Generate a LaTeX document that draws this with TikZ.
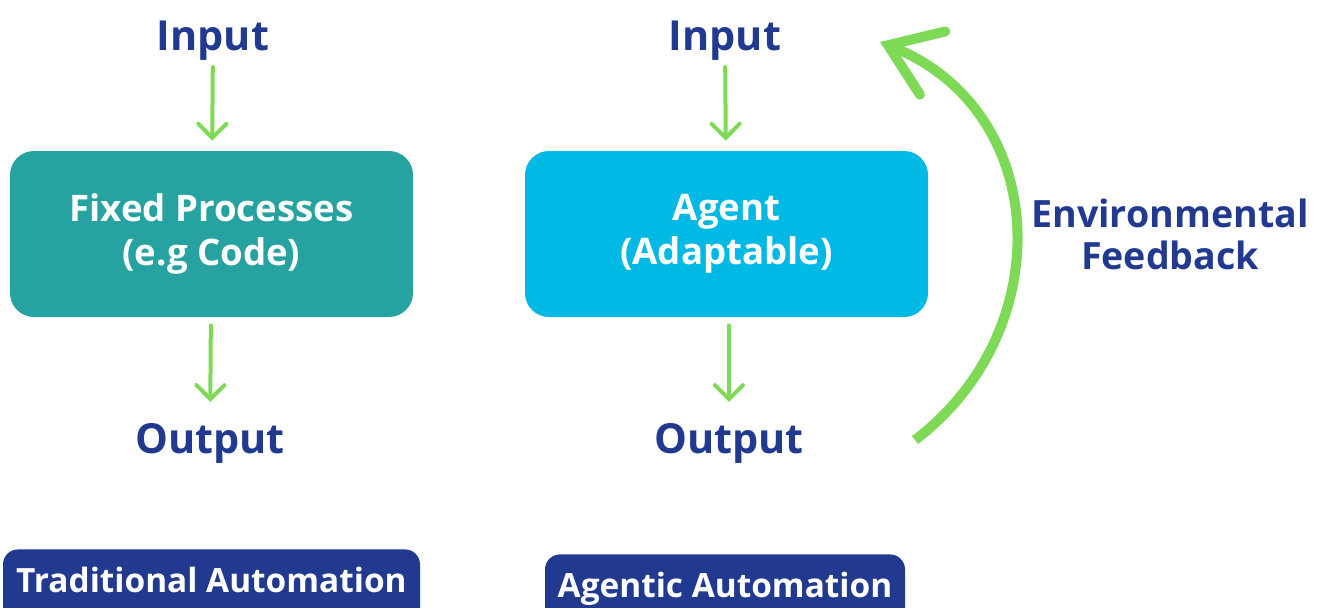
\documentclass[tikz,border=0pt]{standalone}
\usepackage{fontspec}
\setmainfont{Open Sans}
\usetikzlibrary{arrows.meta, positioning}

\definecolor{navy}{HTML}{213A8F}
\definecolor{tealbox}{HTML}{26A3A0}
\definecolor{cyanbox}{HTML}{00B9E4}
\definecolor{leaf}{HTML}{7ED957}

\tikzset{
    heading/.style={text=navy, anchor=base, font=\fontsize{20.7}{25}\selectfont\bfseries},
    procbox/.style={rounded corners=12pt, minimum width=201.5pt, minimum height=83pt,
        text=white, align=center, font=\fontsize{18.3}{22}\selectfont\bfseries},
    flow/.style={-{Straight Barb[length=7pt, width=14pt, line cap=round]},
        line width=2pt, leaf, line cap=round},
    tagbox/.style={fill=navy, rounded corners=7.5pt, text=white, anchor=north, inner sep=0pt,
        text height=21.5pt, text depth=22pt, font=\fontsize{16.7}{20}\selectfont\bfseries}
}

\begin{document}
\begin{tikzpicture}[x=0.5pt, y=-0.5pt]
    \useasboundingbox (0,0) rectangle (1323,607);
    \clip (0,0) rectangle (1323,607);

    % traditional automation
    \node[heading] (in1) at (213,50) {Input};
    \node[procbox, fill=tealbox] (fixed) at (211.5,234) {Fixed Processes\\(e.g Code)};
    \node[heading] (out1) at (210,453) {Output};
    \draw[flow, shorten >=5pt] (in1) -- (fixed);
    \draw[flow, shorten <=4pt, shorten >=7pt] (fixed) -- (out1);
    \node[tagbox, minimum width=208.5pt] (trad) at (211.5,549) {Traditional Automation};

    % agentic automation
    \node[heading] (in2) at (725,50) {Input};
    \node[procbox, fill=cyanbox] (agent) at (726.5,234) {Agent\\(Adaptable)};
    \node[heading] (out2) at (729,453) {Output};
    \draw[flow, shorten >=5pt] (in2) -- (agent);
    \draw[flow, shorten <=4pt, shorten >=7pt] (agent.south -| out2) -- (out2);
    \node[tagbox, minimum width=180pt] (agentic) at (725,554) {Agentic Automation};

    % feedback loop
    \coordinate (fbstart) at (915,440);
    \coordinate (fbend) at (880,42);
    \draw[leaf, line width=5pt, -{Straight Barb[length=24pt, width=34pt, line cap=round]}]
        (fbstart) .. controls (1060,330) and (1050,110) .. (fbend);
    \node[text=navy, align=center, font=\fontsize{18.8}{21}\selectfont\bfseries] (envfb) at (1170,234)
        {Environmental\\Feedback};
\end{tikzpicture}
\end{document}
